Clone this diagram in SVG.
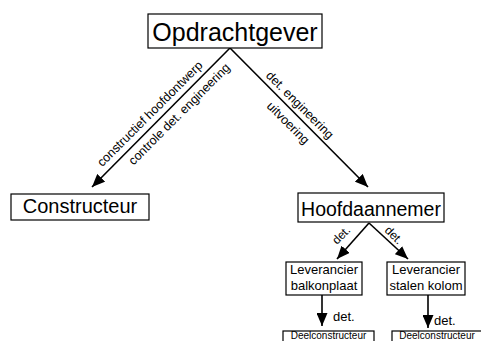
<svg xmlns="http://www.w3.org/2000/svg" width="481" height="341" viewBox="0 0 481 341">
<defs>
<style>
.box{fill:#fff;stroke:#000;stroke-width:1.2}
text{font-family:"Liberation Sans",Arial,sans-serif;fill:#000}
.lbl{font-size:12.5px}
.edge{stroke:#000;stroke-width:1.6;fill:none}
</style>
<marker id="ahb" viewBox="0 0 10 10" refX="10" refY="5" markerWidth="13" markerHeight="11" markerUnits="userSpaceOnUse" orient="auto" preserveAspectRatio="none">
<path d="M0,0 L10,5 L0,10 z" fill="#000"/>
</marker>
</defs>
<rect width="481" height="341" fill="#fff"/>
<g id="connectors">
<path class="edge" d="M230,48 L92,187" marker-end="url(#ahb)"/>
<path class="edge" d="M230,48 L368,187" marker-end="url(#ahb)"/>
<path class="edge" d="M369,223 L337,259" marker-end="url(#ahb)"/>
<path class="edge" d="M369,223 L408,259" marker-end="url(#ahb)"/>
<path class="edge" d="M322,295 L322,326" marker-end="url(#ahb)"/>
<path class="edge" d="M428,295 L428,328" marker-end="url(#ahb)"/>
<g class="lbl">
<text transform="translate(157,121) rotate(-45)" x="0" y="-6" text-anchor="middle">constructief hoofdontwerp</text>
<text transform="translate(171.5,106.5) rotate(-45)" x="0" y="15" text-anchor="middle">controle det. engineering</text>
<text transform="translate(293.5,111.5) rotate(45)" x="0" y="-5" text-anchor="middle">det. engineering</text>
<text transform="translate(296.5,114.5) rotate(45)" x="0" y="16" text-anchor="middle">uitvoering</text>
<text transform="translate(344,238) rotate(-45)" x="0" y="0" text-anchor="middle" style="font-size:12px">det.</text>
<text transform="translate(391,238) rotate(45)" x="0" y="0" text-anchor="middle" style="font-size:12px">det.</text>
<text x="333" y="321" style="font-size:13px">det.</text>
<text x="434" y="325" style="font-size:13px">det.</text>
</g>
</g>
<g id="opdrachtgever">
<rect class="box" x="148" y="14" width="174" height="34"/>
<text x="235" y="41" text-anchor="middle" style="font-size:25px">Opdrachtgever</text>
</g>
<g id="constructeur">
<rect class="box" x="11" y="194" width="138" height="26"/>
<text x="80" y="213" text-anchor="middle" style="font-size:20px">Constructeur</text>
</g>
<g id="hoofdaannemer">
<rect class="box" x="298" y="193" width="146" height="29"/>
<text x="371" y="216" text-anchor="middle" style="font-size:19.5px">Hoofdaannemer</text>
</g>
<g id="leverancier-balkonplaat">
<rect class="box" x="286" y="262" width="76" height="33"/>
<text x="324" y="274" text-anchor="middle" style="font-size:13px">Leverancier</text>
<text x="324" y="290" text-anchor="middle" style="font-size:13px">balkonplaat</text>
</g>
<g id="leverancier-stalen-kolom">
<rect class="box" x="387" y="262" width="78" height="33"/>
<text x="426" y="274" text-anchor="middle" style="font-size:13px">Leverancier</text>
<text x="426" y="290" text-anchor="middle" style="font-size:13px">stalen kolom</text>
</g>
<g id="deelconstructeur-1">
<rect class="box" x="283" y="331" width="91" height="20"/>
<text x="328.5" y="338.5" text-anchor="middle" style="font-size:10px">Deelconstructeur</text>
</g>
<g id="deelconstructeur-2">
<rect class="box" x="392" y="331" width="91" height="20"/>
<text x="437" y="338.5" text-anchor="middle" style="font-size:10px">Deelconstructeur</text>
</g>
</svg>
